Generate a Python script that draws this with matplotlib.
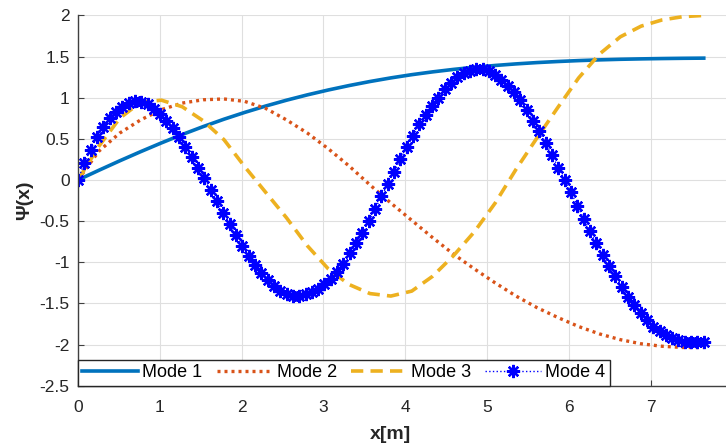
"""Mode shapes Psi(x) for the first four modes, MATLAB-style figure."""

import matplotlib

matplotlib.use("Agg")
import matplotlib.pyplot as plt
import numpy as np

plt.rcParams["font.family"] = ["Liberation Sans", "DejaVu Sans"]
plt.rcParams["axes.unicode_minus"] = False

# sample positions along the member [m]
X_LINE = np.linspace(0, 7.65, 31)    # modes 1-3 (plain lines)
X_MARK = np.linspace(0, 7.65, 100)   # mode 4 (one marker per sample)

MODE_1 = [0.0, 0.118, 0.233, 0.344, 0.451, 0.553, 0.649, 0.739, 0.822, 0.899,
          0.970, 1.035, 1.094, 1.148, 1.197, 1.241, 1.280, 1.314, 1.344, 1.370,
          1.392, 1.411, 1.427, 1.440, 1.451, 1.460, 1.467, 1.472, 1.476, 1.479,
          1.481]

MODE_2 = [0.0, 0.35, 0.57, 0.73, 0.855, 0.935, 0.975, 0.985, 0.955, 0.87,
          0.73, 0.57, 0.38, 0.17, -0.06, -0.28, -0.49, -0.70, -0.90, -1.08,
          -1.25, -1.41, -1.55, -1.67, -1.78, -1.87, -1.94, -1.99, -2.02, -2.035,
          -2.035]

MODE_3 = [0.0, 0.41, 0.75, 0.945, 0.97, 0.89, 0.72, 0.49, 0.16, -0.15,
          -0.46, -0.80, -1.08, -1.27, -1.38, -1.41, -1.35, -1.17, -0.92, -0.63,
          -0.28, 0.13, 0.51, 0.88, 1.24, 1.53, 1.74, 1.87, 1.945, 1.985,
          2.0]

MODE_4 = [0.0, 0.21, 0.37, 0.52, 0.65, 0.75, 0.83, 0.89, 0.93, 0.955,
          0.945, 0.92, 0.86, 0.80, 0.72, 0.63, 0.52, 0.40, 0.28, 0.15,
          0.02, -0.12, -0.26, -0.40, -0.53, -0.67, -0.80, -0.92, -1.03, -1.13,
          -1.22, -1.29, -1.345, -1.385, -1.405, -1.41, -1.39, -1.36, -1.32, -1.265,
          -1.20, -1.12, -1.02, -0.89, -0.77, -0.64, -0.50, -0.35, -0.20, -0.05,
          0.10, 0.25, 0.40, 0.54, 0.68, 0.79, 0.90, 1.00, 1.10, 1.18,
          1.25, 1.30, 1.33, 1.345, 1.345, 1.32, 1.27, 1.21, 1.145, 1.07,
          0.97, 0.85, 0.72, 0.59, 0.45, 0.30, 0.15, 0.0, -0.15, -0.31,
          -0.47, -0.62, -0.77, -0.91, -1.04, -1.17, -1.30, -1.42, -1.52, -1.61,
          -1.70, -1.78, -1.83, -1.885, -1.925, -1.95, -1.965, -1.97, -1.97, -1.97]

X_TICKS = [0, 1, 2, 3, 4, 5, 6, 7]
Y_TICKS = [-2.5, -2, -1.5, -1, -0.5, 0, 0.5, 1, 1.5, 2]
Y_TICK_LABELS = ["-2.5", "-2", "-1.5", "-1", "-0.5", "0", "0.5", "1", "1.5", "2"]

AXIS_GREY = "#404040"
TEXT_GREY = "#262626"

fig = plt.figure(figsize=(7.26, 4.47), dpi=100)
ax = fig.add_axes([0.1074, 0.137, 0.9014, 0.8285])

ax.plot(X_LINE, MODE_1, color="#0072BD", lw=2.6, label="Mode 1")
ax.plot(X_LINE, MODE_2, color="#D95319", lw=2.4, dashes=(0.9, 1.2),
        label="Mode 2")
ax.plot(X_LINE, MODE_3, color="#EDB120", lw=2.6, dashes=(3.4, 2.0),
        label="Mode 3")
ax.plot(X_MARK, MODE_4, color="#0000FF", lw=1.0, ls=":", marker=(8, 2, 0),
        ms=9.5, mew=1.7, label="Mode 4")

ax.set_xlim(0, 8)
ax.set_ylim(-2.5, 2)
ax.set_xticks(X_TICKS)
ax.set_yticks(Y_TICKS)
ax.set_yticklabels(Y_TICK_LABELS)

ax.grid(True, color="#dfdfdf", lw=0.8)
ax.set_axisbelow(True)
for side in ("top", "right"):
    ax.spines[side].set_visible(False)
for side in ("left", "bottom"):
    ax.spines[side].set_color(AXIS_GREY)
    ax.spines[side].set_linewidth(1.0)
ax.tick_params(direction="in", length=4, width=0.8, color=AXIS_GREY,
               labelcolor=TEXT_GREY, labelsize=12.5)
ax.tick_params(axis="x", pad=10)
ax.tick_params(axis="y", pad=6)

ax.set_xlabel("x[m]", fontsize=14, fontweight="bold", color=TEXT_GREY)
ax.set_ylabel("\u03a8(x)", fontsize=14, fontweight="bold", color=TEXT_GREY)
ax.xaxis.set_label_coords(0.478, -0.108)
ax.yaxis.set_label_coords(-0.069, 0.5)

leg = ax.legend(loc="lower left", bbox_to_anchor=(0, 0), ncol=4,
                fontsize=13, frameon=True, fancybox=False, framealpha=1,
                edgecolor="#262626", borderaxespad=0, borderpad=0.25,
                handlelength=3.1, handletextpad=0.22, columnspacing=0.78,
                numpoints=1)
leg.get_frame().set_linewidth(1.0)

fig.savefig("out.png", dpi=100)
